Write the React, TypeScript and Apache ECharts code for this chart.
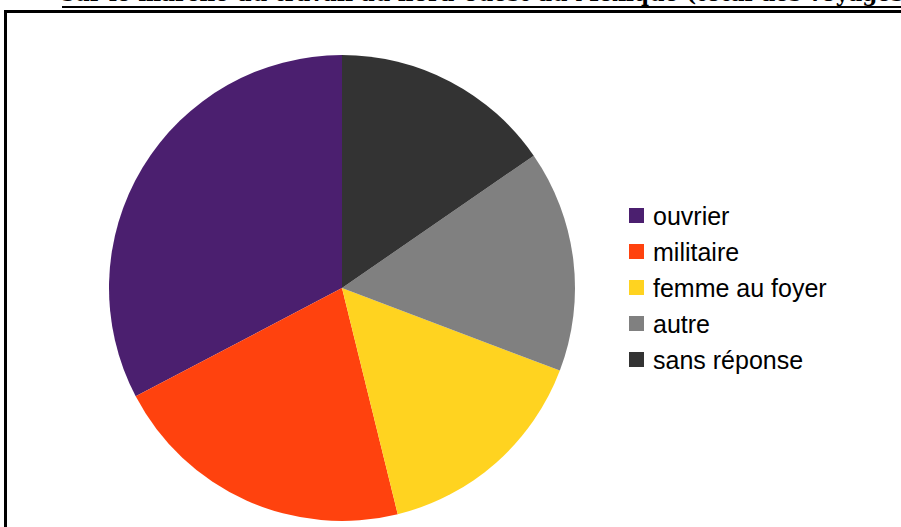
import React, { useEffect, useRef } from "react";
import * as echarts from "echarts";

const categories = ["ouvrier", "militaire", "femme au foyer", "autre", "sans réponse"];
const values = [17, 11, 8, 8, 8];
const colors = ["#4b1f6f", "#ff420e", "#ffd320", "#808080", "#333333"];
const titleText = "sur le marché du travail au nord-ouest du Mexique (total des voyages)";

export default function App() {
  const ref = useRef<HTMLDivElement>(null);
  useEffect(() => {
    document.body.style.margin = "0";
    if (!ref.current) return;
    const chart = echarts.init(ref.current, null, { renderer: "svg" });
    chart.setOption({
      animation: false,
      backgroundColor: "#ffffff",
      legend: {
        orient: "vertical",
        left: 629,
        top: 203,
        padding: 0,
        itemWidth: 15,
        itemHeight: 15,
        itemGap: 11,
        icon: "rect",
        textStyle: {
          fontFamily: "Liberation Sans",
          fontSize: 25,
          color: "#000",
          padding: [0, 0, 0, 4],
        },
        data: categories,
      },
      graphic: [
        {
          type: "rect",
          shape: { x: 5.5, y: 11.5, width: 1000, height: 1000 },
          style: { fill: "none", stroke: "#000", lineWidth: 3 },
          silent: true,
        },
        {
          type: "text",
          x: 62,
          y: 4,
          style: {
            text: titleText,
            fontFamily: "DejaVu Serif",
            fontWeight: "bold",
            fontSize: 21.6,
            fill: "#000",
            verticalAlign: "bottom",
          },
        },
        {
          type: "line",
          shape: { x1: 62, y1: 7, x2: 901, y2: 7 },
          style: { stroke: "#000", lineWidth: 2 },
        },
      ],
      series: [
        {
          type: "pie",
          center: [342, 288],
          radius: 233,
          startAngle: 90,
          clockwise: false,
          label: { show: false },
          labelLine: { show: false },
          itemStyle: { borderWidth: 0 },
          emphasis: { disabled: true },
          data: categories.map((c, i) => ({ name: c, value: values[i], itemStyle: { color: colors[i] } })),
        },
      ],
    });
    return () => chart.dispose();
  }, []);
  return <div ref={ref} style={{ width: 901, height: 527 }} />;
}
